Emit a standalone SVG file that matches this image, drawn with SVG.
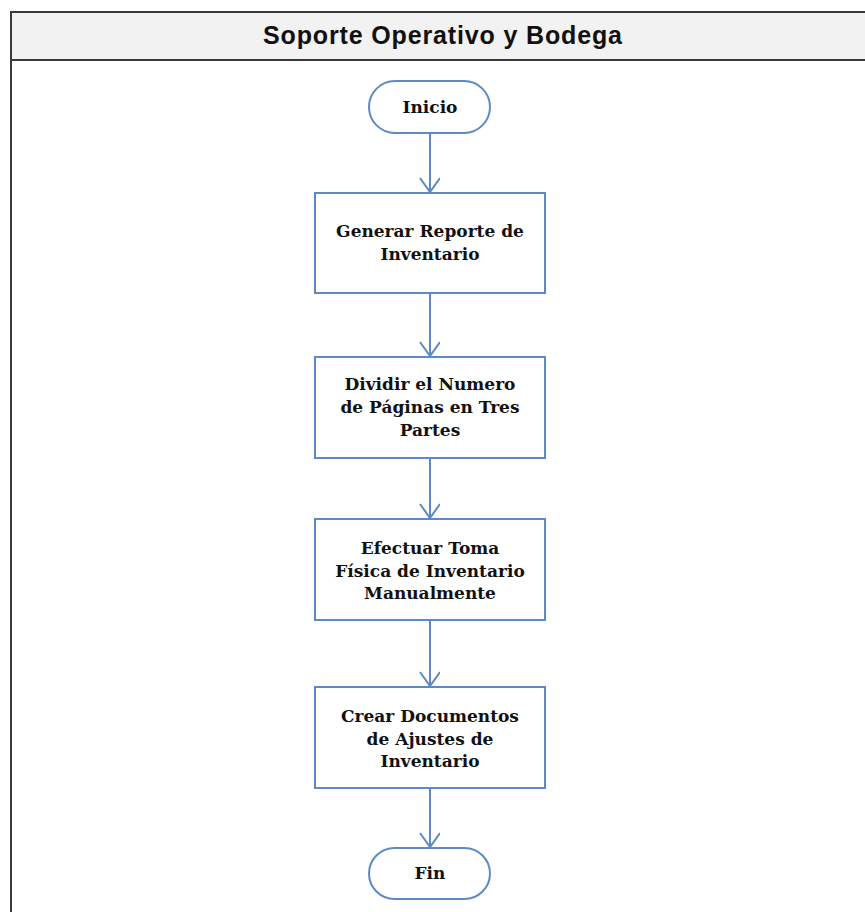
<svg xmlns="http://www.w3.org/2000/svg" width="865" height="912" viewBox="0 0 865 912">
  <style>
    .lane { fill: #ffffff; stroke: #3a3a3a; stroke-width: 2; }
    .lane-head { fill: #f2f2f2; stroke: #3a3a3a; stroke-width: 2; }
    .title { font-family: "Liberation Sans", Arial, sans-serif; font-weight: bold; font-size: 25px; fill: #111; text-anchor: middle; }
    .shape { fill: #ffffff; stroke: #5b8ac6; stroke-width: 2; }
    .label { font-family: "DejaVu Serif", "Liberation Serif", serif; font-weight: bold; font-size: 17px; fill: #111; text-anchor: middle; }
    .conn { stroke: #5b8ac6; stroke-width: 2; fill: none; }
  </style>
  <defs>
    <marker id="open-arrow" markerWidth="20" markerHeight="22" refX="15" refY="10" orient="auto" markerUnits="userSpaceOnUse">
      <path d="M 1 0 L 15 10 L 1 20" fill="none" stroke="#5b8ac6" stroke-width="2"/>
    </marker>
  </defs>

  <rect width="865" height="912" fill="#ffffff"/>

  <!-- swimlane frame -->
  <g id="lane">
    <rect class="lane" x="11" y="12" width="870" height="920"/>
    <rect class="lane-head" x="11" y="12" width="870" height="48"/>
    <text class="title" x="442.5" y="44" textLength="359" lengthAdjust="spacing">Soporte Operativo y Bodega</text>
  </g>

  <!-- connectors -->
  <g id="connectors">
    <line class="conn" x1="430" y1="133" x2="430" y2="192" marker-end="url(#open-arrow)"/>
    <line class="conn" x1="430" y1="293" x2="430" y2="356" marker-end="url(#open-arrow)"/>
    <line class="conn" x1="430" y1="458" x2="430" y2="518" marker-end="url(#open-arrow)"/>
    <line class="conn" x1="430" y1="620" x2="430" y2="686" marker-end="url(#open-arrow)"/>
    <line class="conn" x1="430" y1="788" x2="430" y2="847" marker-end="url(#open-arrow)"/>
  </g>

  <g id="inicio">
    <rect class="shape" x="369" y="81" width="121" height="52" rx="26" ry="26"/>
    <text class="label" x="430" y="113">Inicio</text>
  </g>

  <g id="generar-reporte">
    <rect class="shape" x="315" y="193" width="230" height="100"/>
    <text class="label" x="430" y="237">Generar Reporte de</text>
    <text class="label" x="430" y="260">Inventario</text>
  </g>

  <g id="dividir-paginas">
    <rect class="shape" x="315" y="357" width="230" height="101"/>
    <text class="label" x="430" y="390">Dividir el Numero</text>
    <text class="label" x="430" y="413">de Páginas en Tres</text>
    <text class="label" x="430" y="436">Partes</text>
  </g>

  <g id="toma-fisica">
    <rect class="shape" x="315" y="519" width="230" height="101"/>
    <text class="label" x="430" y="554">Efectuar Toma</text>
    <text class="label" x="430" y="577">Física de Inventario</text>
    <text class="label" x="430" y="599">Manualmente</text>
  </g>

  <g id="documentos-ajuste">
    <rect class="shape" x="315" y="687" width="230" height="101"/>
    <text class="label" x="430" y="722">Crear Documentos</text>
    <text class="label" x="430" y="745">de Ajustes de</text>
    <text class="label" x="430" y="767">Inventario</text>
  </g>

  <g id="fin">
    <rect class="shape" x="369" y="848" width="121" height="51" rx="25.5" ry="25.5"/>
    <text class="label" x="430" y="879">Fin</text>
  </g>
</svg>
